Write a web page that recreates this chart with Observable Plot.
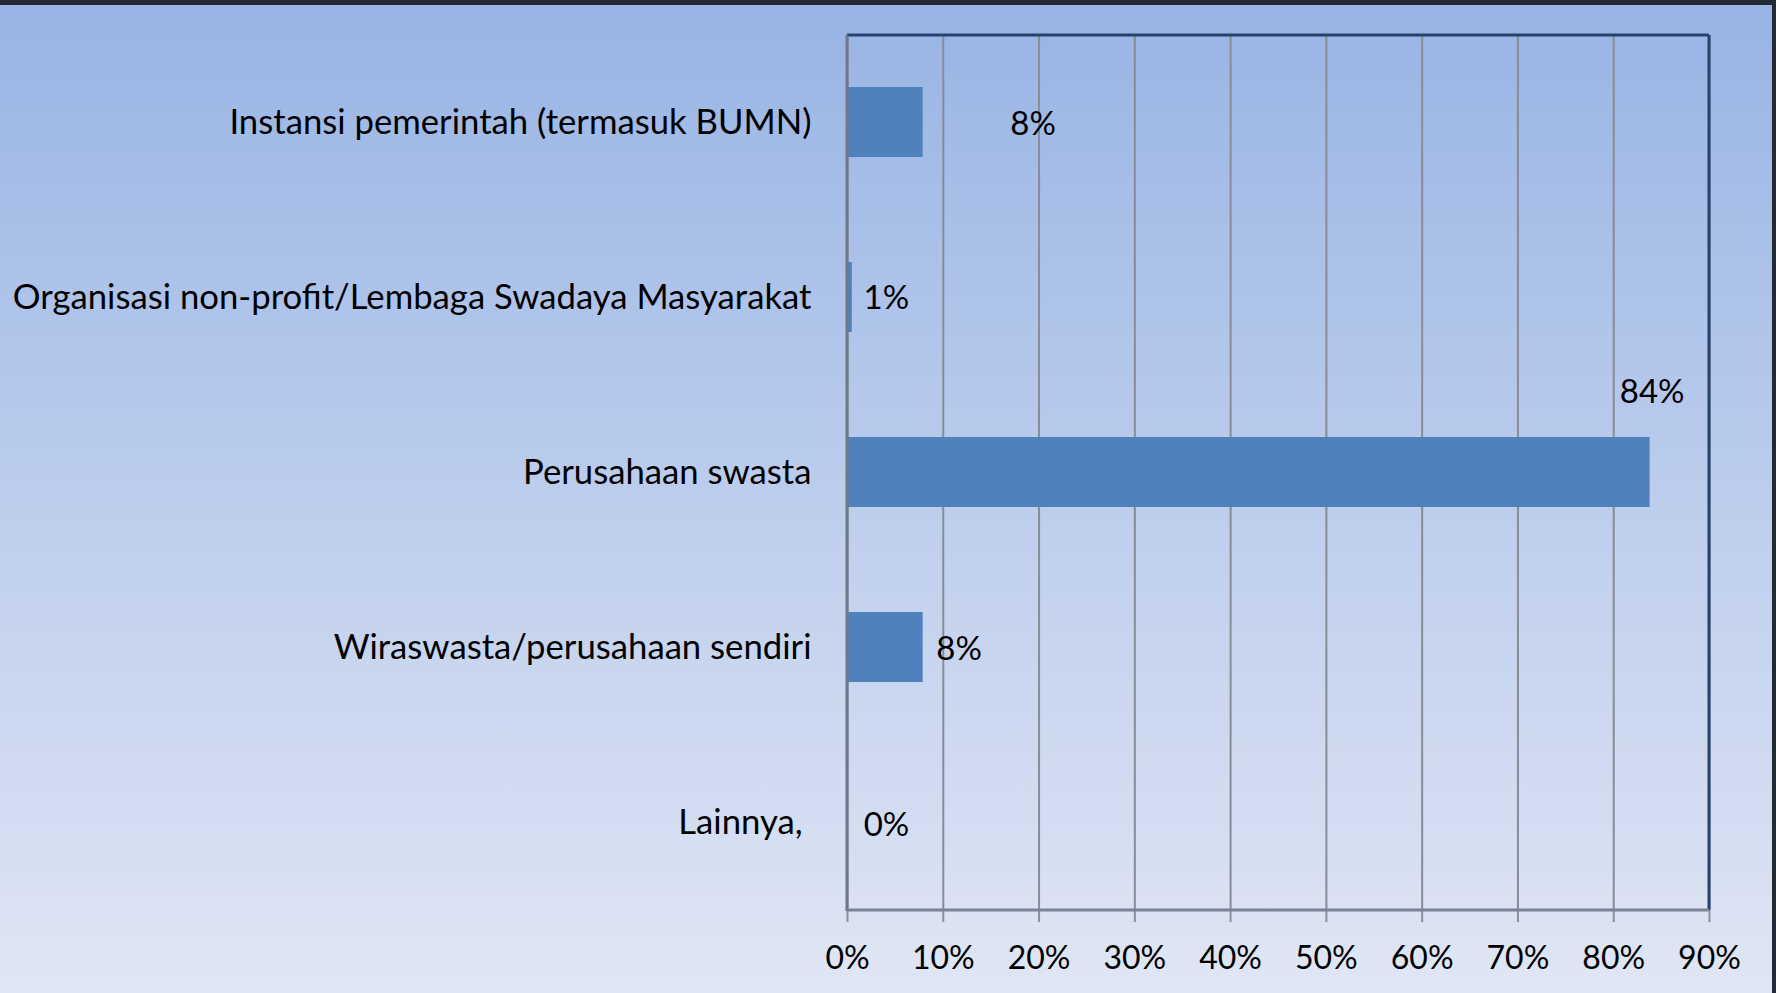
<!DOCTYPE html>
<html>
<head>
<meta charset="utf-8">
<script src="https://cdn.jsdelivr.net/npm/d3@7"></script>
<script src="https://cdn.jsdelivr.net/npm/@observablehq/plot@0.6"></script>
<style>
  html, body { margin: 0; padding: 0; background: #232a33; overflow: hidden; }
  #wrap { margin-top: 5px; width: 1772px; height: 988px; }
</style>
</head>
<body>
<div id="wrap"></div>
<script>
// ---- data ----
const categories = [
  "Instansi pemerintah (termasuk BUMN)",
  "Organisasi non-profit/Lembaga Swadaya Masyarakat",
  "Perusahaan swasta",
  "Wiraswasta/perusahaan sendiri",
  "Lainnya,\u00a0"
];
const values = [0.079, 0.005, 0.838, 0.079, 0.0];
const valueLabels = ["8%", "1%", "84%", "8%", "0%"];
const xTicks = [0, 0.1, 0.2, 0.3, 0.4, 0.5, 0.6, 0.7, 0.8, 0.9];
const xTickLabels = ["0%", "10%", "20%", "30%", "40%", "50%", "60%", "70%", "80%", "90%"];

const data = categories.map((c, i) => ({category: c, value: values[i], label: valueLabels[i]}));

// label placement (pixel nudges, as in the original chart's data labels)
const labelNudge = [[110, 2], [34, 1], [2, -80], [36, 2], [39, 3]];

const FONT = "Lato, 'Open Sans', sans-serif";

// custom frame: dark blue top/right, grey left/bottom
const frameLines = (index, scales, values, dims) => {
  const {width, height, marginLeft, marginRight, marginTop, marginBottom} = dims;
  const g = d3.create("svg:g");
  const x0 = marginLeft, x1 = width - marginRight, y0 = marginTop, y1 = height - marginBottom;
  g.append("line").attr("x1", x0).attr("x2", x1).attr("y1", y0).attr("y2", y0)
    .attr("stroke", "#25436f").attr("stroke-width", 3);
  g.append("line").attr("x1", x1).attr("x2", x1).attr("y1", y0).attr("y2", y1)
    .attr("stroke", "#25436f").attr("stroke-width", 3);
  g.append("line").attr("x1", x0).attr("x2", x0).attr("y1", y0).attr("y2", y1 + 1)
    .attr("stroke", "#6e7888").attr("stroke-width", 3);
  g.append("line").attr("x1", x0).attr("x2", x1).attr("y1", y1).attr("y2", y1)
    .attr("stroke", "#7a8494").attr("stroke-width", 3);
  return g.node();
};

const chart = Plot.plot({
  width: 1772,
  height: 988,
  marginLeft: 847,
  marginRight: 63,
  marginTop: 30,
  marginBottom: 83,
  style: {
    background: "linear-gradient(to bottom, #98b4e4 0%, #b9cbec 45%, #e0e6f4 100%)",
    fontFamily: FONT,
    fontSize: "32px",
    color: "black",
    overflow: "visible"
  },
  x: {domain: [0, 0.9], label: null},
  y: {domain: categories, paddingInner: 0.6, paddingOuter: 0.3, label: null},
  marks: [
    Plot.gridX(xTicks, {stroke: "#878c96", strokeOpacity: 1, strokeWidth: 2}),
    Plot.barX(data, {x: "value", y: "category", fill: "#4f81bd"}),
    Plot.axisX({
      ticks: xTicks,
      tickFormat: d => xTickLabels[xTicks.indexOf(d)],
      tickSize: 12,
      tickPadding: 24,
      stroke: "#8a8f99",
      strokeWidth: 2,
      fill: "black",
      fontSize: 32,
      label: null
    }),
    Plot.axisY({tickSize: 0, tickPadding: 36, fill: "black", fontSize: 34.7, label: null}),
    ...data.map((d, i) => Plot.text([d], {
      x: "value", y: "category", text: "label",
      dx: labelNudge[i][0], dy: labelNudge[i][1],
      fill: "black", fontSize: 33
    })),
    frameLines
  ]
});

document.getElementById("wrap").appendChild(chart);
</script>
</body>
</html>
